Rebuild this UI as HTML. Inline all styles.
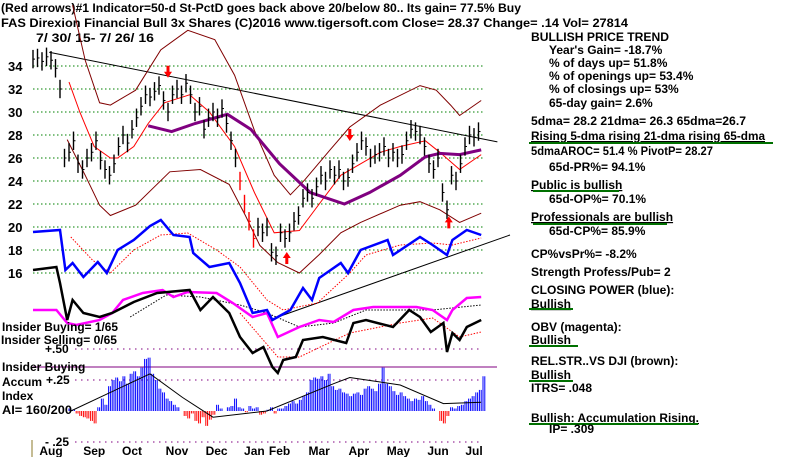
<!DOCTYPE html>
<html><head><meta charset="utf-8"><style>
html,body{margin:0;padding:0;background:#fff;}
svg{display:block;font-family:"Liberation Sans",Arial,sans-serif;font-weight:bold;}
</style></head><body>
<svg id="chart" width="800" height="457" viewBox="0 0 800 457" xmlns="http://www.w3.org/2000/svg">
<g font-size="12" fill="#000">
<text x="1" y="12" textLength="520" lengthAdjust="spacingAndGlyphs">(Red arrows)#1 Indicator=50-d St-PctD goes back above 20/below 80.. Its gain= 77.5% Buy</text>
<text x="1" y="27" textLength="627" lengthAdjust="spacingAndGlyphs">FAS   Direxion Financial Bull 3x Shares  (C)2016 www.tigersoft.com    Close=  28.37  Change= .14 Vol= 27814</text>
<text x="36" y="42" textLength="118" lengthAdjust="spacingAndGlyphs">7/ 30/ 15- 7/ 26/ 16</text>
</g>
<g id="grid"></g>
<g id="plot"></g>
<g font-size="12" fill="#000">
<text x="531" y="41" textLength="138" lengthAdjust="spacingAndGlyphs">BULLISH PRICE TREND</text>
<text x="549" y="54">Year's Gain= -18.7%</text>
<text x="549" y="67">% of days up= 51.8%</text>
<text x="549" y="80">% of openings up= 53.4%</text>
<text x="549" y="93">% of closings up= 53%</text>
<text x="549" y="107">65-day gain= 2.6%</text>
<text x="531" y="125" textLength="215" lengthAdjust="spacingAndGlyphs">5dma= 28.2 21dma= 26.3 65dma=26.7</text>
<text x="531" y="140" textLength="234" lengthAdjust="spacingAndGlyphs" text-decoration="underline">Rising 5-dma  rising 21-dma  rising 65-dma</text>
<line x1="529" y1="143" x2="773" y2="143" stroke="#007000" stroke-width="2"/>
<text x="531" y="155" textLength="182" lengthAdjust="spacingAndGlyphs">5dmaAROC= 51.4 %  PivotP= 28.27</text>
<text x="549" y="171">65d-PR%= 94.1%</text>
<text x="531" y="189" text-decoration="underline">Public is bullish</text>
<line x1="533" y1="191" x2="619" y2="191" stroke="#007000" stroke-width="2"/>
<text x="549" y="203">65d-OP%= 70.1%</text>
<text x="531" y="221" text-decoration="underline">Professionals are bullish</text>
<line x1="533" y1="224" x2="667" y2="224" stroke="#007000" stroke-width="2"/>
<text x="549" y="235">65d-CP%= 85.9%</text>
<text x="531" y="258">CP%vsPr%= -8.2%</text>
<text x="531" y="276">Strength Profess/Pub= 2</text>
<text x="531" y="294">CLOSING POWER (blue):</text>
<text x="531" y="308" text-decoration="underline">Bullish</text>
<line x1="529" y1="309" x2="573" y2="309" stroke="#007000" stroke-width="2"/>
<text x="531" y="331">OBV (magenta):</text>
<text x="531" y="344" text-decoration="underline">Bullish</text>
<line x1="529" y1="346" x2="578" y2="346" stroke="#007000" stroke-width="2"/>
<text x="531" y="365">REL.STR..VS DJI (brown):</text>
<text x="531" y="379" text-decoration="underline">Bullish</text>
<line x1="529" y1="381" x2="573" y2="381" stroke="#007000" stroke-width="2"/>
<text x="531" y="392">ITRS= .048</text>
<text x="531" y="422" textLength="168" lengthAdjust="spacingAndGlyphs" text-decoration="underline">Bullish: Accumulation Rising.</text>
<line x1="529" y1="424" x2="698" y2="424" stroke="#007000" stroke-width="2"/>
<text x="549" y="433">IP= .309</text>
</g>
<g font-size="12" fill="#000">
<text x="2" y="331" textLength="116" lengthAdjust="spacingAndGlyphs">Insider Buying= 1/65</text>
<text x="1" y="344" textLength="116" lengthAdjust="spacingAndGlyphs">Insider Selling= 0/65</text>
<text x="45" y="353">+.50</text>
<text x="2" y="371">Insider Buying</text>
<text x="2" y="386">Accum</text>
<text x="46" y="384">+.25</text>
<text x="2" y="400">Index</text>
<text x="2" y="414" textLength="70" lengthAdjust="spacingAndGlyphs">AI= 160/200</text>
<text x="45" y="446">- .25</text>
</g>
<line x1="32" y1="440" x2="32" y2="457" stroke="#8b7a2a" stroke-width="1"/>
</svg>
<script>
// ---- data ----
const priceTicks = [34,32,30,28,26,24,22,20,18,16];
const monthLabels = ["Aug","Sep","Oct","Nov","Dec","Jan","Feb","Mar","Apr","May","Jun","Jul"];
const monthDays = [10,34,55,80,102,123,137,159,181,203,225,245];
const closes = [34.6,34.7,34.4,34.8,34.5,33.8,32,26,26.5,27.5,25.5,25,26,26.5,27.5,25.8,25,24.5,25.5,27,28,27.3,28.5,29.5,30.5,31.5,31.3,31.8,32.3,31,30,31.5,32,31.5,32.5,31.5,30,30.5,28.5,29.5,30,29.5,30.3,29,27.5,26,24,22,20.5,19,20,19.5,20,17.8,17.5,19.5,19,19.5,20.5,21,22.5,23,22.5,23.5,24.5,24,25,24.5,25,24,24.3,25.5,26.5,27.5,27,26,26.3,26.5,27,26,26.5,26,26.3,27.5,28.5,28.3,28,27,25.5,25,26,23,21.5,24.5,24,25.5,27,28,27.8,28.3];
const upperDays = [22,29,37,43,57,71,86,101,112,123,134,143,151,165,176,193,215,224,232,237,249];
const upperBand = [39.3,34.5,30.8,30.6,31.9,35.4,37.1,36.3,33.2,28.4,24.5,22.8,24.1,26.7,28.7,30.6,32.3,31.9,30.6,29.7,31];
const lowerDays = [19,29,37,43,57,76,93,109,118,126,136,148,159,171,182,204,215,226,237,249];
const lowerBand = [27.6,24.5,21.9,21,21.9,24.8,25,23.7,21,18.4,16.9,16,17.6,19.5,20.4,21.9,22.2,21.5,20.4,21.2];
const ma21Days = [20,26,34,43,47,56,64,73,87,98,112,123,134,148,159,171,182,193,204,218,226,237,249];
const ma21 = [32.6,30,27,26,26,27,29,30.8,31.5,30,27,23,19.5,19.7,22,24.5,25.5,26.5,27,27.5,26.5,25,26.3];
const ma65Days = [64,77,90,108,121,137,154,173,187,204,218,226,237,249];
const ma65 = [28.8,28.3,29,29.8,28.5,25.5,23,22,23,24.5,26.1,26.4,26.3,26.7];
const cpDays = [0,15,18,22,28,36,41,47,56,65,71,78,87,89,98,109,115,122,130,133,143,150,155,159,171,175,182,197,200,215,222,230,233,241,249];
const closingPower = [179,181,141,148,134,149,138,161,171,185,191,176,174,158,144,148,128,98,101,91,101,123,111,133,148,138,161,171,156,174,166,156,171,181,176];
const cpMaDays = [21,33,43,56,71,86,102,115,130,139,158,176,185,204,222,233,249];
const cpMa = [174,151,138,161,176,178,161,144,111,101,108,138,156,166,168,166,173];
const rsDays = [0,13,15,19,22,28,37,44,56,69,87,93,100,109,115,122,128,133,136,139,146,150,161,174,178,185,200,209,215,221,228,230,233,237,241,249];
const relStrength = [141,144,128,91,111,98,94,98,109,118,121,101,114,98,74,58,64,44,38,51,54,71,74,68,88,91,84,101,94,79,88,59,78,71,84,91];
const rsMaDays = [54,74,93,115,130,148,167,185,222,249];
const rsMa = [94,116,114,106,98,84,88,101,101,106];
const rsLowDays = [115,136,148,176,204,222,237,249];
const rsLow = [98,54,54,78,88,93,74,79];
const obvDays = [0,13,19,24,37,44,50,61,72,78,86,102,111,122,130,136,148,159,167,178,189,213,222,230,233,241,249];
const obv = [101,101,88,86,91,98,111,118,121,114,119,118,108,94,98,74,84,91,89,101,104,104,101,91,101,113,114];
const aiStartDay = 20;
const accumIndex = [0.02,0.01,-0.02,-0.04,-0.05,-0.06,-0.08,-0.1,
0.03,0.1,0.05,0.2,0.25,0.27,
0.24,0.28,0.22,0.3,0.32,0.28,0.35,0.42,
0.43,0.3,0.25,0.18,0.15,0.1,0.08,0.05,
0.03,0.0,-0.04,-0.06,-0.02,-0.08,-0.1,-0.05,-0.12,-0.07,-0.03,
0.05,0.02,0.0,0.03,0.04,0.1,0.03,0.02,-0.01,0.04,0.02,0.03,-0.03,-0.02,0.01,
0.03,-0.02,0.02,0.02,0.04,0.06,0.08,0.06,0.09,
0.12,0.15,0.25,0.27,0.26,0.28,0.25,0.3,0.2,0.17,0.18,0.15,0.14,0.12,
0.14,0.15,0.13,0.18,0.2,0.18,0.16,0.22,0.35,0.22,0.2,0.16,
0.13,0.15,0.12,0.1,0.08,0.1,0.09,0.12,0.08,0.05,0.02,0.0,-0.08,
-0.1,-0.04,0.03,0.02,0.04,0.05,0.08,0.1,0.12,0.15,0.17,0.28];
const aiMaDays = [21,65,83,100,130,167,176,204,228,249];
const aiMa = [0.0,0.3,0.11,-0.05,0.0,0.22,0.27,0.21,0.06,0.07];
const downArrowDays = [75,176];
const downArrowPrices = [33.5,28];
const upArrowDays = [141,231];
const upArrowPrices = [17.3,20.4];

// ---- axes ----
const NS = "http://www.w3.org/2000/svg";
const xDay = d => 33 + d * 1.8;
const yPrice = p => 66 + (34 - p) * 11.5;
const yInd = v => 411 - v;
const yAI = a => 411 - a * 124;
const grid = document.getElementById('grid');
const plot = document.getElementById('plot');
function mk(tag, attrs, parent) {
  const e = document.createElementNS(NS, tag);
  for (const k in attrs) e.setAttribute(k, attrs[k]);
  parent.appendChild(e);
  return e;
}
function poly(days, vals, yf, stroke, w, dash, name) {
  const pts = days.map((d, i) => xDay(d).toFixed(1) + ',' + yf(vals[i]).toFixed(1)).join(' ');
  const el = mk('polyline', {points: pts, fill: 'none', stroke: stroke, 'stroke-width': w}, plot);
  if (dash) el.setAttribute('stroke-dasharray', dash);
  
  
  return el;
}
// grid + ticks
priceTicks.forEach(p => {
  const l = mk('line', {x1: 33, x2: 483, y1: yPrice(p), y2: yPrice(p), stroke: '#008000', 'stroke-dasharray': '1.5,2.5'}, grid);
  
  
  const t = mk('text', {x: 8, y: yPrice(p) + 5, 'font-size': 13}, grid);
  t.textContent = p;
  
  
});
[0.5, 0.25, -0.25].forEach(a => {
  const l = mk('line', {x1: 75, x2: 483, y1: yAI(a), y2: yAI(a), stroke: '#800080', 'stroke-dasharray': '1.5,4.5'}, grid);
  
  
});
const ib = mk('line', {x1: 33, x2: 497, y1: 367, y2: 367, stroke: '#800080', 'stroke-width': 1}, grid);


monthLabels.forEach((m, i) => {
  const t = mk('text', {x: xDay(monthDays[i]), y: 455, 'font-size': 12, 'text-anchor': 'middle'}, grid);
  t.textContent = m;
  
  
});
// trendlines
const tl1 = mk('line', {x1: xDay(9), y1: yPrice(35.2), x2: xDay(258), y2: yPrice(27.4), stroke: '#000', 'stroke-width': 1}, plot);


const tl2 = mk('line', {x1: xDay(136), y1: yInd(94), x2: xDay(265), y2: yInd(176), stroke: '#000', 'stroke-width': 1}, plot);


// bands and MAs
poly(upperDays, upperBand, yPrice, '#800000', 1, null, 'upper-band');
poly(lowerDays, lowerBand, yPrice, '#800000', 1, null, 'lower-band');
poly(ma21Days, ma21, yPrice, '#ff0000', 1, null, 'ma-21');
poly(ma65Days, ma65, yPrice, '#800080', 3, null, 'ma-65');
// price bars
closes.forEach((c, i) => {
  const x = xDay(i * 2.5);
  const g = mk('g', {}, plot);
  
  
  const col = (i >= 46 && i <= 49) ? '#ff0000' : '#000';
  mk('line', {x1: x, x2: x, y1: yPrice(c + 0.8), y2: yPrice(c - 0.8), stroke: col, 'stroke-width': 1.4}, g);
  mk('line', {x1: x, x2: x + 2, y1: yPrice(c), y2: yPrice(c), stroke: col, 'stroke-width': 1}, g);
});
// indicator lines
poly(cpMaDays, cpMa, yInd, '#ff0000', 1, '1.5,1.5', 'closing-power-ma');
poly(rsMaDays, rsMa, yInd, '#000', 1, '1.5,1.5', 'rel-strength-ma');
poly(rsLowDays, rsLow, yInd, '#ff0000', 1, '1.5,1.5', 'rel-strength-lower');
poly(obvDays, obv, yInd, '#ff00ff', 2.5, null, 'obv-line');
poly(rsDays, relStrength, yInd, '#000', 2.5, null, 'rel-strength-line');
poly(cpDays, closingPower, yInd, '#0000ff', 2.5, null, 'closing-power-line');
// accumulation histogram
accumIndex.forEach((a, i) => {
  const d = aiStartDay + i * 2;
  [0, 1].forEach(k => {
    const x = xDay(d + k);
    const b = mk('line', {x1: x, x2: x, y1: yAI(0), y2: yAI(a), stroke: a >= 0 ? '#0000ff' : '#ff0000', 'stroke-width': 1}, plot);
    
    
  });
});
poly(aiMaDays, aiMa, yAI, '#000', 1, null, 'ai-ma');
// arrows
function arrow(d, p, up, name) {
  const x = xDay(d), y = yPrice(p);
  const pts = up
    ? [[x, y - 6], [x - 4, y], [x - 1.5, y], [x - 1.5, y + 6], [x + 1.5, y + 6], [x + 1.5, y], [x + 4, y]]
    : [[x, y + 6], [x - 4, y], [x - 1.5, y], [x - 1.5, y - 6], [x + 1.5, y - 6], [x + 1.5, y], [x + 4, y]];
  const a = mk('polygon', {points: pts.map(q => q.join(',')).join(' '), fill: '#ff0000'}, plot);
  
  
}
downArrowDays.forEach((d, i) => arrow(d, downArrowPrices[i], false, 'sell-arrow'));
upArrowDays.forEach((d, i) => arrow(d, upArrowPrices[i], true, 'buy-arrow'));
</script>
</body></html>
